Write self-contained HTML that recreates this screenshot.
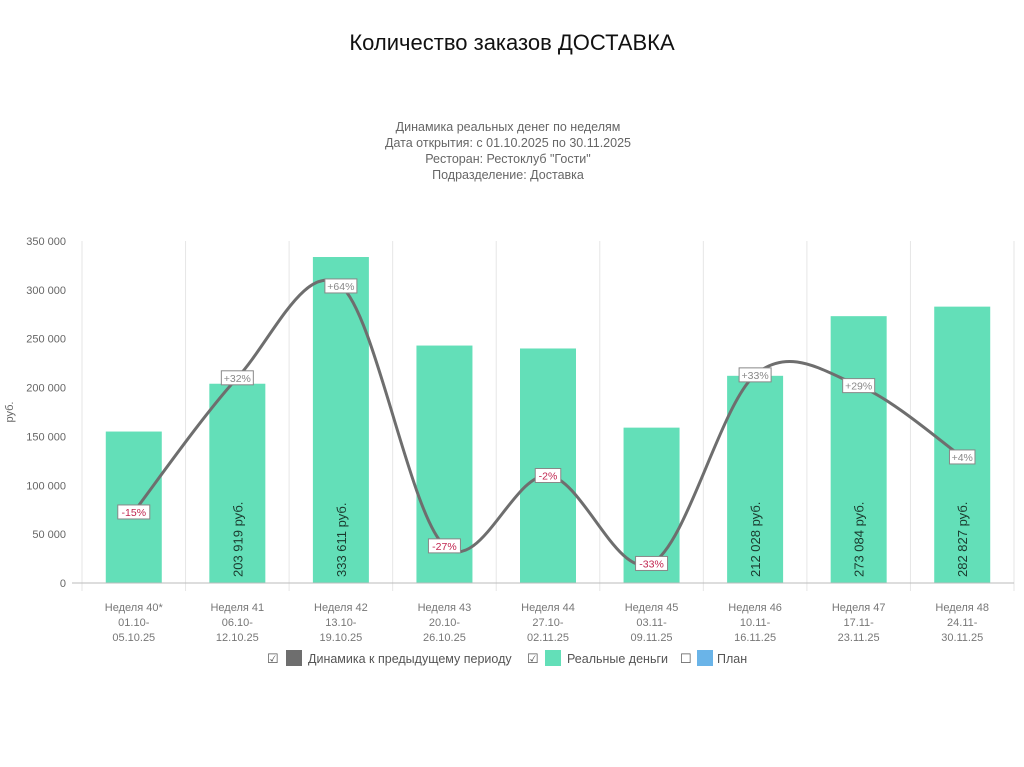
<!DOCTYPE html>
<html><head><meta charset="utf-8">
<style>
body{margin:0;background:#fff;width:1024px;height:767px;overflow:hidden;font-family:"Liberation Sans",sans-serif;}
svg{display:block}
</style></head>
<body>
<svg id="chart" width="1024" height="767">
<text x="512" y="50" text-anchor="middle" font-size="22" fill="#111">Количество заказов ДОСТАВКА</text>
<g font-size="12.5" fill="#666" text-anchor="middle">
<text x="508" y="131">Динамика реальных денег по неделям</text>
<text x="508" y="147">Дата открытия: с 01.10.2025 по 30.11.2025</text>
<text x="508" y="163">Ресторан: Рестоклуб "Гости"</text>
<text x="508" y="179">Подразделение: Доставка</text>
</g>
<text transform="translate(13,412) rotate(-90)" text-anchor="middle" font-size="11" fill="#666">руб.</text>
<g id="grid"></g><g id="bars"></g><g id="line"></g><g id="labels"></g><g id="axes"></g>
<g font-size="12.5" fill="#555">
<g><text x="267" y="663" font-size="13">☑</text><rect x="286" y="650" width="16" height="16" fill="#6e6e6e"/><text x="308" y="663">Динамика к предыдущему периоду</text></g>
<g><text x="527" y="663" font-size="13">☑</text><rect x="545" y="650" width="16" height="16" fill="#63dfb8"/><text x="567" y="663">Реальные деньги</text></g>
<g><text x="680" y="663" font-size="13">☐</text><rect x="697" y="650" width="16" height="16" fill="#6ab4e8"/><text x="717" y="663">План</text></g>
</g>
</svg>
<script>
const categories=["Неделя 40*","Неделя 41","Неделя 42","Неделя 43","Неделя 44","Неделя 45","Неделя 46","Неделя 47","Неделя 48"];
const dateStarts=["01.10-","06.10-","13.10-","20.10-","27.10-","03.11-","10.11-","17.11-","24.11-"];
const dateEnds=["05.10.25","12.10.25","19.10.25","26.10.25","02.11.25","09.11.25","16.11.25","23.11.25","30.11.25"];
const realMoney=[155000,203919,333611,243000,240000,159000,212028,273084,282827];
const showValue=[false,true,true,false,false,false,true,true,true];
const dynamicsPos=[72700,210000,304000,38000,110000,20000,213000,202000,129000];
const dynamicsLabels=["-15%","+32%","+64%","-27%","-2%","-33%","+33%","+29%","+4%"];
const yTicks=[0,50000,100000,150000,200000,250000,300000,350000];
const NS="http://www.w3.org/2000/svg";
const x0=82,x1=1014,y0=583,y1=241,yMax=350000;
const bw=(x1-x0)/categories.length;
const xC=i=>x0+bw*(i+0.5);
const yS=v=>y0-(v/yMax)*(y0-y1);
function mk(tag,attrs,parent,txt){const e=document.createElementNS(NS,tag);for(const k in attrs)e.setAttribute(k,attrs[k]);if(txt!==undefined)e.textContent=txt;document.getElementById(parent).appendChild(e);return e;}
const fmt=v=>String(v).replace(/\B(?=(\d{3})+(?!\d))/g,' ');
yTicks.forEach(t=>{
  const e=mk('text',{x:66,y:yS(t)+4,'text-anchor':'end','font-size':'11',fill:'#666'},'axes',fmt(t));
  
  
});
for(let i=0;i<=categories.length;i++){
  const g=mk('line',{x1:x0+bw*i,x2:x0+bw*i,y1:y1,y2:y0+8,stroke:'#e6e6e6','stroke-width':1},'grid');
  
  
}
const ax=mk('line',{x1:72,x2:x1,y1:y0,y2:y0,stroke:'#bbb'},'axes');


categories.forEach((c,i)=>{
  const b=mk('rect',{x:xC(i)-28,y:yS(realMoney[i]),width:56,height:y0-yS(realMoney[i]),fill:'#63dfb8'},'bars');
  
  
  [c,dateStarts[i],dateEnds[i]].forEach((s,k)=>{
    const t=mk('text',{x:xC(i),y:611+k*15,'text-anchor':'middle','font-size':'11',fill:'#777'},'axes',s);
    
    
  });
  if(showValue[i]){
    const t=mk('text',{transform:`translate(${xC(i)+5},577) rotate(-90)`,'font-size':'13',fill:'#1a3a2e'},'labels',fmt(realMoney[i])+' руб.');
    
    
  }
});
// Catmull-Rom curve
const pts=dynamicsPos.map((v,i)=>[xC(i),yS(v)]);
let d=`M${pts[0][0]},${pts[0][1]}`;
for(let i=0;i<pts.length-1;i++){
  const p0=pts[Math.max(0,i-1)],p1=pts[i],p2=pts[i+1],p3=pts[Math.min(pts.length-1,i+2)];
  const c1=[p1[0]+(p2[0]-p0[0])/6,p1[1]+(p2[1]-p0[1])/6];
  const c2=[p2[0]-(p3[0]-p1[0])/6,p2[1]-(p3[1]-p1[1])/6];
  d+=` C${c1[0]},${c1[1]} ${c2[0]},${c2[1]} ${p2[0]},${p2[1]}`;
}
const ln=mk('path',{d:d,fill:'none',stroke:'#6e6e6e','stroke-width':3},'line');


pts.forEach((p,i)=>{
  const s=dynamicsLabels[i];const w=s.length*6.5+6;
  const r=mk('rect',{x:p[0]-w/2,y:p[1]-7,width:w,height:14,fill:'#fff',stroke:'#888','stroke-width':1},'labels');
  
  
  const t=mk('text',{x:p[0],y:p[1]+4,'text-anchor':'middle','font-size':'10.5',fill:s[0]=='-'?'#c0254f':'#888'},'labels',s);
  
  
});
</script>
</body></html>
